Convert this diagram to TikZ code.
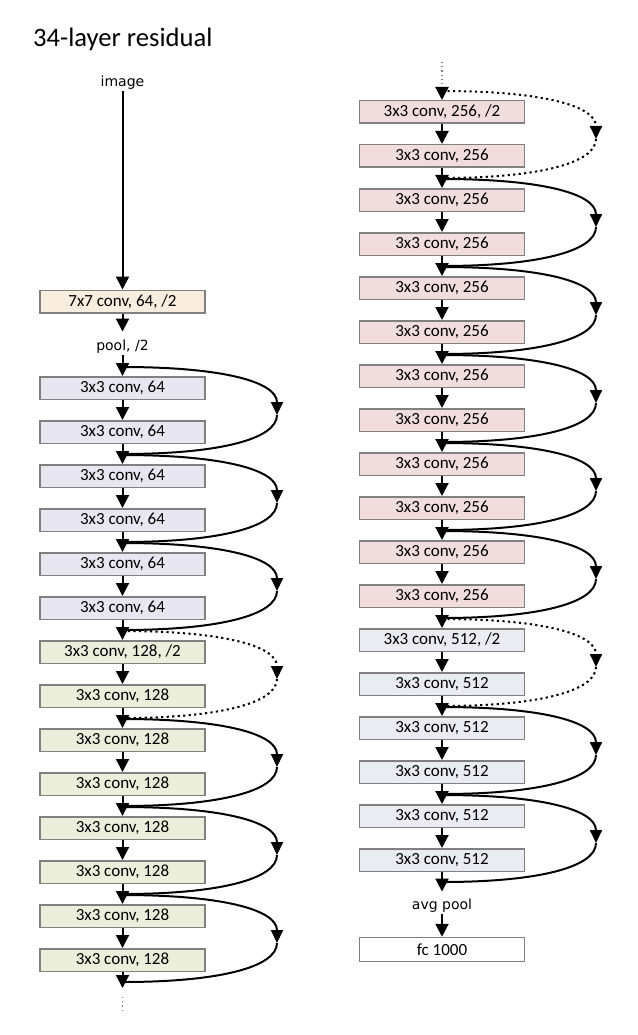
\documentclass[tikz,border=0pt]{standalone}
\usepackage{fontspec}
\setmainfont{Carlito}
\newfontfamily\lblfont{DejaVu Sans}
\usetikzlibrary{arrows.meta}
\definecolor{bord}{RGB}{128,128,128}
\definecolor{cA}{RGB}{248,237,222}
\definecolor{cB}{RGB}{232,230,240}
\definecolor{cC}{RGB}{235,238,219}
\definecolor{cD}{RGB}{241,222,220}
\definecolor{cE}{RGB}{233,236,243}
\tikzset{
  layer/.style={draw=bord, line width=1.5pt, minimum width=165pt, minimum height=22.5pt, inner sep=0pt, font=\fontsize{17}{17}\selectfont},
  lbl/.style={inner sep=1.5pt, font=\lblfont\fontsize{14}{14}\selectfont},
  flow/.style={line width=2pt, -{Triangle[length=13pt,width=13pt]}},
  skip/.style={line width=2pt},
  skiptip/.style={skip, -{Triangle[length=13pt,width=12pt]}},
  proj/.style={skip, dash pattern=on 2.2pt off 3.3pt},
  projtip/.style={proj, -{Triangle[length=13pt,width=12pt]}},
  vdots/.style={line width=1.2pt, gray, dash pattern=on 1.2pt off 3pt},
}
\begin{document}
\begin{tikzpicture}[x=1pt,y=-1pt]
\useasboundingbox (0,0) rectangle (637,1035);
\node[anchor=base west, inner sep=0pt, font=\fontsize{26.6}{26.6}\selectfont] (title) at (33,46.5) {34-layer residual};

% ---------- left column ----------
\node[lbl] (img) at (122.5,83) {image};
\node[layer, fill=cA] (c7) at (122.5,301.5) {7x7 conv, 64, /2};
\node[lbl] (pool) at (122.5,347) {pool, /2};
\foreach \i in {1,...,6}
  \node[layer, fill=cB] (L\i) at (122.5,{388+44*(\i-1)}) {3x3 conv, 64};
\node[layer, fill=cC] (L7) at (122.5,{388+44*6}) {3x3 conv, 128, /2};
\foreach \i in {8,...,14}
  \node[layer, fill=cC] (L\i) at (122.5,{388+44*(\i-1)}) {3x3 conv, 128};

\draw[flow] (img) -- (c7);
\draw[flow, shorten >=7pt] (c7) -- (pool);
\draw[flow] (pool) -- (L1);
\foreach \i in {1,...,13} {
  \pgfmathtruncatemacro\j{\i+1}
  \draw[flow] (L\i) -- (L\j);
}
\coordinate (Lend) at (122.5,988);
\draw[flow] (L14) -- (Lend);
\coordinate (Ld1) at (122.5,997);
\coordinate (Ld2) at (122.5,1012);
\draw[vdots] (Ld1) -- (Ld2);

\foreach \a/\st in {1/skip,3/skip,5/skip,7/proj,9/skip,11/skip,13/skip} {
  \coordinate (ls\a) at (122.5,{388+44*(\a-1)-21});
  \coordinate (lm\a) at (277,{388+44*(\a-1)+27});
  \coordinate (le\a) at (122.5,{388+44*(\a-1)+66});
  \draw[\st tip] (ls\a) .. controls +(97,0) and +(0,-34) .. (lm\a);
  \draw[\st] (lm\a) .. controls +(0,24) and +(97,0) .. (le\a);
}

% ---------- right column ----------
\coordinate (Rd1) at (442,62);
\coordinate (Rd2) at (442,88);
\draw[vdots] (Rd1) -- (Rd2);
\node[layer, fill=cD] (R1) at (442,112) {3x3 conv, 256, /2};
\foreach \i in {2,...,12}
  \node[layer, fill=cD] (R\i) at (442,{112+44*(\i-1)}) {3x3 conv, 256};
\node[layer, fill=cE] (R13) at (442,{112+44*12}) {3x3 conv, 512, /2};
\foreach \i in {14,...,18}
  \node[layer, fill=cE] (R\i) at (442,{112+44*(\i-1)}) {3x3 conv, 512};
\node[lbl] (avg) at (442,906) {avg pool};
\node[layer, fill=white, minimum height=24pt] (fc) at (442,949.5) {fc 1000};

\draw[flow] (Rd2) -- (R1);
\foreach \i in {1,...,17} {
  \pgfmathtruncatemacro\j{\i+1}
  \draw[flow] (R\i) -- (R\j);
}
\draw[flow, shorten >=6pt] (R18) -- (avg);
\draw[flow] (avg) -- (fc);

\foreach \a/\st in {1/proj,3/skip,5/skip,7/skip,9/skip,11/skip,13/proj,15/skip,17/skip} {
  \coordinate (rs\a) at (442,{112+44*(\a-1)-21});
  \coordinate (rm\a) at (596,{112+44*(\a-1)+27});
  \coordinate (re\a) at (442,{112+44*(\a-1)+66});
  \draw[\st tip] (rs\a) .. controls +(97,0) and +(0,-34) .. (rm\a);
  \draw[\st] (rm\a) .. controls +(0,24) and +(97,0) .. (re\a);
}
\end{tikzpicture}
\end{document}
